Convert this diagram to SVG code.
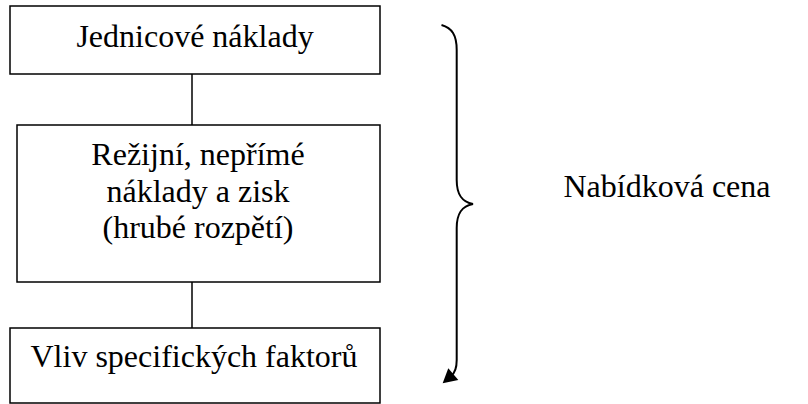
<svg xmlns="http://www.w3.org/2000/svg" width="808" height="404" viewBox="0 0 808 404">
<style>
.box{fill:#fff;stroke:#000;stroke-width:1.5}
.t{font-family:"Liberation Serif","Times New Roman",serif;font-size:32px;fill:#000;text-anchor:middle}
.c{fill:none;stroke:#000;stroke-width:1.5}
.b{fill:none;stroke:#000;stroke-width:2}
</style>
<rect width="808" height="404" fill="#fff"/>
<g id="connectors">
<line class="c" x1="192" y1="74" x2="192" y2="125"/>
<line class="c" x1="192" y1="282" x2="192" y2="328"/>
<path class="b" d="M441.5,25 C452,28 456.7,35 456.7,50 L456.7,180 C456.7,195 462,202 473,204 C462,206 456.7,213 456.7,228 L456.7,360 C456.7,368 455,373 451,376"/>
<path d="M442.7,383.3 L448.3,368.3 L458.3,380 z" fill="#000"/>
</g>
<g id="n1">
<rect class="box" x="10" y="6" width="370" height="68"/>
<text class="t" x="195" y="47">Jednicové náklady</text>
</g>
<g id="n2">
<rect class="box" x="17" y="125" width="363" height="157"/>
<text class="t" x="198" y="165">Režijní, nepřímé</text>
<text class="t" x="198" y="202">náklady a zisk</text>
<text class="t" x="198" y="238">(hrubé rozpětí)</text>
</g>
<g id="n3">
<rect class="box" x="10" y="328" width="370" height="75"/>
<text class="t" x="194" y="367">Vliv specifických faktorů</text>
</g>
<g id="label">
<text class="t" x="667" y="197">Nabídková cena</text>
</g>
</svg>
